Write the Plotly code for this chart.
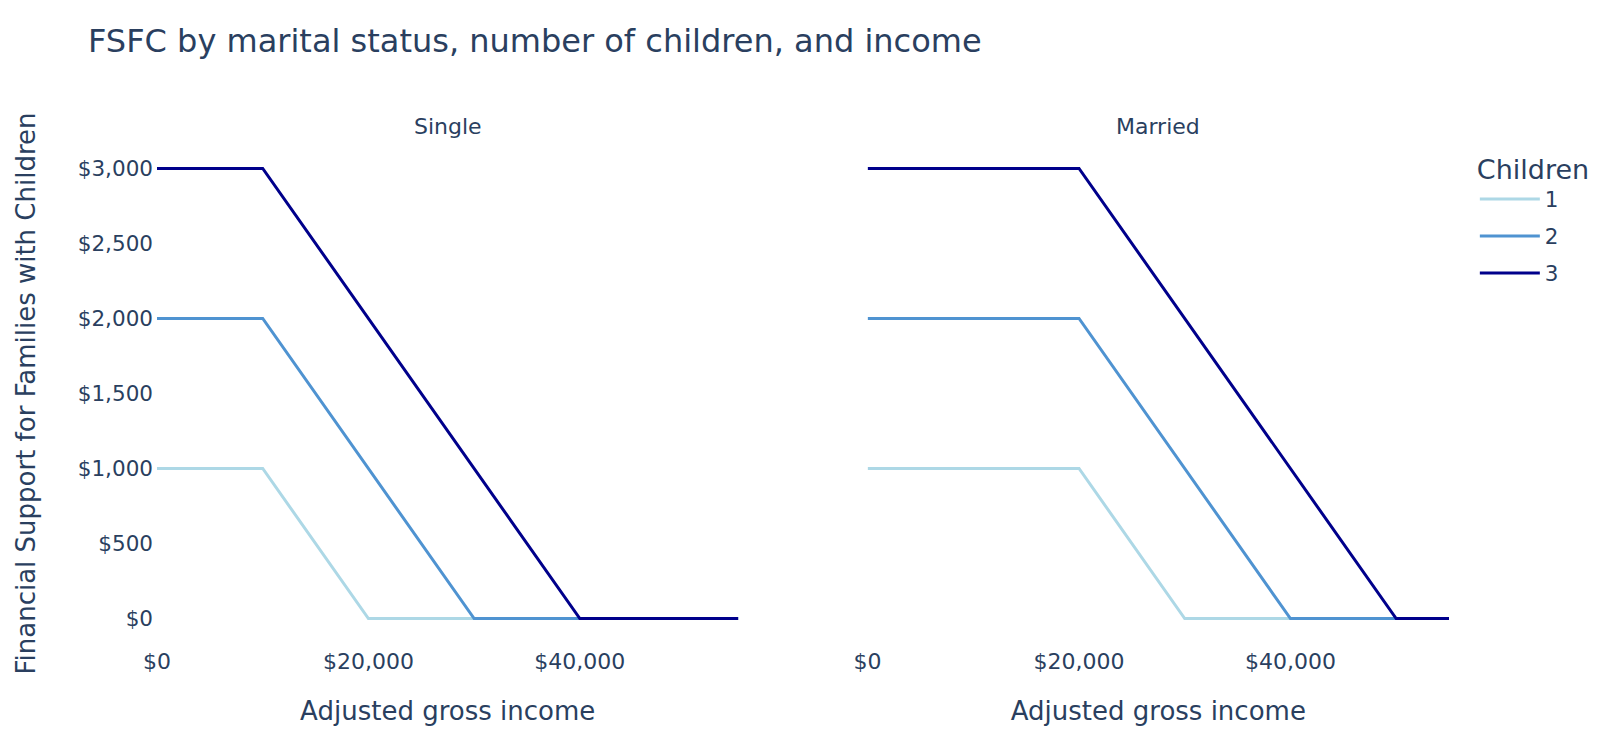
import plotly.graph_objects as go
from plotly.subplots import make_subplots

statuses = ["Single", "Married"]
children = ["1", "2", "3"]

# income breakpoints and FSFC amounts per child count
single_income = {
    "1": [0, 10000, 20000, 55000],
    "2": [0, 10000, 30000, 55000],
    "3": [0, 10000, 40000, 55000],
}
married_income = {
    "1": [0, 20000, 30000, 55000],
    "2": [0, 20000, 40000, 55000],
    "3": [0, 20000, 50000, 55000],
}
fsfc = {
    "1": [1000, 1000, 0, 0],
    "2": [2000, 2000, 0, 0],
    "3": [3000, 3000, 0, 0],
}

colors = {"1": "#add8e6", "2": "#4f93d1", "3": "#00008b"}

font = "DejaVu Sans"
fc = "#2a3f5f"

fig = make_subplots(rows=1, cols=2, subplot_titles=statuses,
                    horizontal_spacing=0.1, shared_yaxes=True)

for col, incomes in enumerate([single_income, married_income], start=1):
    for c in children:
        fig.add_trace(go.Scatter(
            x=incomes[c], y=fsfc[c], mode="lines", name=c,
            legendgroup=c, showlegend=(col == 1),
            line=dict(color=colors[c], width=3),
        ), row=1, col=col)

for ann in fig.layout.annotations:
    ann.font = dict(family=font, size=22, color=fc)

fig.update_xaxes(title=dict(text="Adjusted gross income", font=dict(size=26),
                            standoff=28),
                 tickprefix="$", tickformat=",", dtick=20000,
                 range=[0, 55000], showgrid=False, zeroline=False,
                 showline=False, tickfont=dict(size=22), automargin=False)
fig.update_yaxes(tickprefix="$", tickformat=",", dtick=500,
                 range=[-183, 3183], showgrid=False, zeroline=False,
                 showline=False, tickfont=dict(size=21.5),
                 ticklabelstandoff=3, automargin=False)
fig.update_yaxes(title=dict(text="Financial Support for Families with Children",
                            font=dict(size=26), standoff=34), row=1, col=1)

fig.update_layout(
    template="none",
    width=1600, height=755,
    font=dict(family=font, color=fc),
    title=dict(text="FSFC by marital status, number of children, and income",
               x=0.05, y=0.956, yanchor="middle",
               font=dict(size=32, family=font, color=fc)),
    legend=dict(title=dict(text="Children", font=dict(size=27)),
                font=dict(size=21.5), tracegroupgap=6, itemwidth=60,
                y=0.995),
    margin=dict(l=149, r=159, t=133, b=117),
    plot_bgcolor="white", paper_bgcolor="white",
)

fig.write_html("out.html")
